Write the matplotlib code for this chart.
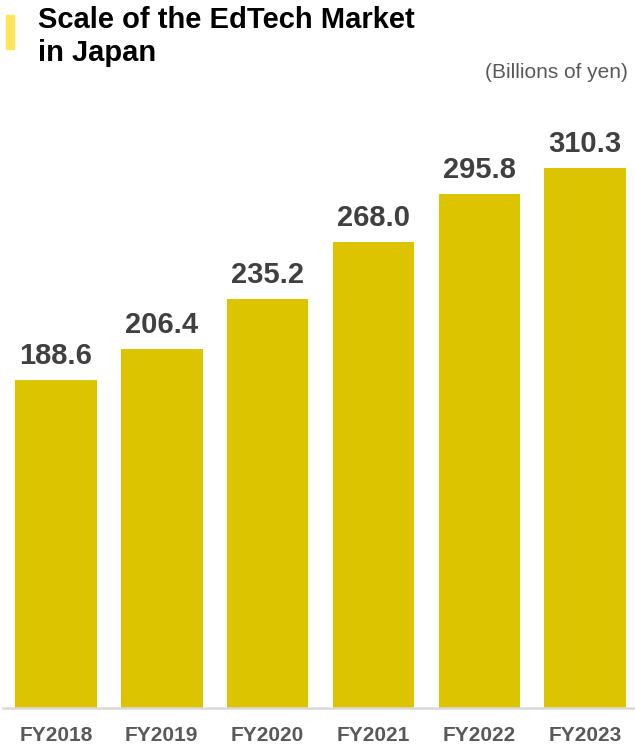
import matplotlib.pyplot as plt
from matplotlib.patches import Rectangle

# data
years = ["FY2018", "FY2019", "FY2020", "FY2021", "FY2022", "FY2023"]
market = [188.6, 206.4, 235.2, 268.0, 295.8, 310.3]

plt.rcParams['font.family'] = ['Liberation Sans', 'DejaVu Sans']

fig = plt.figure(figsize=(6.35, 7.44), dpi=100)
ax = fig.add_axes([3 / 635, 36 / 744, 632 / 635, 608.7 / 744])

x = range(len(years))
bars = ax.bar(x, market, width=0.77, color='#DCC400', zorder=2)

for xi, v in zip(x, market):
    ax.annotate(f"{v:.1f}", (xi, v), xytext=(0, 10), textcoords='offset pixels',
                ha='center', va='bottom', fontsize=21, fontweight='bold',
                color='#404040')

ax.set_xlim(-0.5, 5.47)
ax.set_ylim(0, 350)
ax.set_xticks(list(x))
ax.set_xticklabels(years, fontsize=15, fontweight='bold', color='#595959')
ax.tick_params(axis='x', length=0, pad=13)
ax.set_yticks([])
for s in ['top', 'right', 'left']:
    ax.spines[s].set_visible(False)
ax.spines['bottom'].set_color('#D9D9D9')
ax.spines['bottom'].set_linewidth(1.8)

# title with yellow marker
fig.patches.append(Rectangle((6 / 635, 1 - 49 / 744), 8 / 635, 34 / 744,
                             transform=fig.transFigure, color='#FDE65A'))
fig.text(38 / 635, 1 - 6 / 744, "Scale of the EdTech Market\nin Japan",
         ha='left', va='top', fontsize=21, fontweight='bold', color='black',
         linespacing=1.22)
fig.text(628 / 635, 1 - 72 / 744, "(Billions of yen)", ha='right', va='center',
         fontsize=15, color='#595959')

fig.savefig('out.png', dpi=100)
